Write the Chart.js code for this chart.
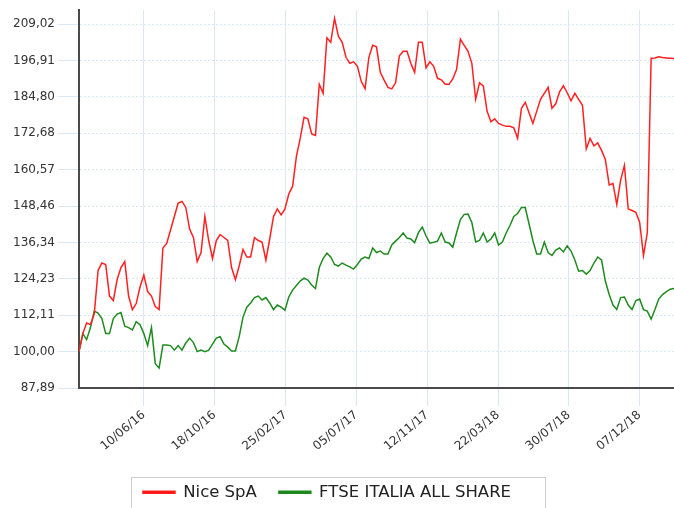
<!DOCTYPE html>
<html>
<head>
<meta charset="utf-8">
<script src="https://cdn.jsdelivr.net/npm/chart.js@4.4.0/dist/chart.umd.min.js"></script>
<style>
  html, body { margin: 0; padding: 0; background: #fff; }
  #wrap { width: 674px; height: 508px; position: relative; }
</style>
</head>
<body>
<div id="wrap"><canvas id="perfChart"></canvas></div>
<script>
// date settimanali (venerdi)
const dates = [
  '12/02/16','19/02/16','26/02/16','04/03/16','11/03/16','18/03/16','25/03/16','01/04/16','08/04/16','15/04/16',
  '22/04/16','29/04/16','06/05/16','13/05/16','20/05/16','27/05/16','03/06/16','10/06/16','17/06/16','24/06/16',
  '01/07/16','08/07/16','15/07/16','22/07/16','29/07/16','05/08/16','12/08/16','19/08/16','26/08/16','02/09/16',
  '09/09/16','16/09/16','23/09/16','30/09/16','07/10/16','14/10/16','21/10/16','28/10/16','04/11/16','11/11/16',
  '18/11/16','25/11/16','02/12/16','09/12/16','16/12/16','23/12/16','30/12/16','06/01/17','13/01/17','20/01/17',
  '27/01/17','03/02/17','10/02/17','17/02/17','24/02/17','03/03/17','10/03/17','17/03/17','24/03/17','31/03/17',
  '07/04/17','14/04/17','21/04/17','28/04/17','05/05/17','12/05/17','19/05/17','26/05/17','02/06/17','09/06/17',
  '16/06/17','23/06/17','30/06/17','07/07/17','14/07/17','21/07/17','28/07/17','04/08/17','11/08/17','18/08/17',
  '25/08/17','01/09/17','08/09/17','15/09/17','22/09/17','29/09/17','06/10/17','13/10/17','20/10/17','27/10/17',
  '03/11/17','10/11/17','17/11/17','24/11/17','01/12/17','08/12/17','15/12/17','22/12/17','29/12/17','05/01/18',
  '12/01/18','19/01/18','26/01/18','02/02/18','09/02/18','16/02/18','23/02/18','02/03/18','09/03/18','16/03/18',
  '23/03/18','30/03/18','06/04/18','13/04/18','20/04/18','27/04/18','04/05/18','11/05/18','18/05/18','25/05/18',
  '01/06/18','08/06/18','15/06/18','22/06/18','29/06/18','06/07/18','13/07/18','20/07/18','27/07/18','03/08/18',
  '10/08/18','17/08/18','24/08/18','31/08/18','07/09/18','14/09/18','21/09/18','28/09/18','05/10/18','12/10/18',
  '19/10/18','26/10/18','02/11/18','09/11/18','16/11/18','23/11/18','30/11/18','07/12/18','14/12/18','21/12/18',
  '28/12/18','04/01/19','11/01/19','18/01/19','25/01/19','01/02/19','08/02/19'
];

const niceSpa = [
  100, 106, 109.5, 109, 112.5, 127, 129.5, 129, 118.5, 117,
  124, 128, 130, 118.5, 114, 116, 121.5, 125.5, 120, 118.5,
  115, 114, 134.5, 136, 140.5, 145, 149.5, 150, 148, 140.8,
  138, 130, 133, 145, 137, 131, 137, 139, 138, 137,
  128, 124, 128.5, 134, 131.5, 131.5, 138, 137, 136.5, 130.5,
  137.5, 145, 147.5, 145.5, 147.5, 152.5, 155, 165, 171, 178,
  177.5, 172.5, 172, 189, 186, 204.5, 203, 211, 205, 203,
  198, 196, 196.5, 195, 190, 187.5, 198, 202, 201.5, 193,
  190.4, 188, 187.5, 189.5, 198.5, 200, 200, 196, 193, 203,
  203, 194.5, 196.5, 195, 191, 190.5, 189, 189, 190.8, 194,
  204, 202, 200, 196, 184, 189.5, 188.5, 180, 176.5, 177.5,
  176, 175.4, 175, 175, 174.5, 171, 181, 183, 179.5, 176,
  180, 184, 186, 188, 181, 182.5, 186.5, 188.5, 186.2, 183.5,
  186, 184, 182, 167.5, 171, 168.5, 169.5, 167, 164, 155.5,
  156, 149, 157, 162, 147.5, 147, 146.4, 143, 132, 139.5,
  197.7, 197.8, 198.2, 197.9, 197.8, 197.7, 197.6
];

const ftseItalia = [
  100, 106, 104, 108, 113.5, 112.8, 111, 106, 106, 111,
  112.5, 113, 108.5, 108, 107.2, 110, 109, 106, 102, 108,
  96, 94.5, 102.2, 102.2, 102, 100.5, 102, 100.5, 102.9, 104.5,
  103, 100, 100.5, 100, 100.5, 102.5, 104.5, 105, 102.5, 101.5,
  100.2, 100.2, 105, 111.5, 114.8, 116.2, 118, 118.5, 117.2, 118,
  116.2, 114, 115.5, 114.8, 113.8, 118.2, 120.5, 122, 123.5, 124.5,
  123.8, 122.2, 121, 128, 131, 132.8, 131.5, 129, 128.5, 129.5,
  128.8, 128.2, 127.5, 129, 130.8, 131.5, 131, 134.5, 133, 133.5,
  132.5, 132.5, 135.5, 136.8, 138, 139.5, 137.8, 137.5, 136.3, 139.6,
  141.5, 138.5, 136.1, 136.4, 136.8, 139.5, 136.5, 136.2, 134.8, 139.6,
  144, 145.7, 145.8, 143, 136.5, 137, 139.5, 136.5, 137.5, 139.5,
  135.5, 136.5, 139.5, 142, 145, 146, 148, 148, 142.5, 137,
  132.5, 132.5, 136.5, 133, 132, 133.8, 134.5, 133.2, 135.2, 133.5,
  130.5, 126.8, 127, 125.8, 127, 129.5, 131.5, 130.5, 123.5, 119,
  115.5, 114, 118, 118.2, 115.5, 114, 117, 117.5, 114, 113.5,
  110.8, 114, 117.5, 119, 120, 120.8, 121
];

const xTickLabels = ['10/06/16','18/10/16','25/02/17','05/07/17','12/11/17','22/03/18','30/07/18','07/12/18'];
const yTickValues = [87.89, 100.00, 112.11, 124.23, 136.34, 148.46, 160.57, 172.68, 184.80, 196.91, 209.02];
const yMin = 87.89;
const yMax = 213.68;

function toDay(s) {
  const [d, m, y] = s.split('/').map(Number);
  return Date.UTC(2000 + y, m - 1, d) / 86400000;
}

const gridBlue = '#d9e7f6';
const axisGray = '#4a4a4a';

Chart.defaults.font.family = "'DejaVu Sans', Verdana, sans-serif";
Chart.defaults.color = '#333';

// sposta un po' la legenda a sinistra
const legendShift = {
  id: 'legendShift',
  afterLayout(chart) {
    const lg = chart.legend;
    if (!lg) return;
    lg.left -= 10;
    lg.right -= 10;
  }
};

// cornice attorno alla legenda
const legendFrame = {
  id: 'legendFrame',
  afterDraw(chart) {
    const lg = chart.legend;
    const boxes = lg && lg.legendHitBoxes;
    if (!boxes || !boxes.length) return;
    const first = boxes[0];
    const last = boxes[boxes.length - 1];
    const left = first.left - 12;
    const right = last.left + last.width + 34;
    const top = first.top + first.height / 2 - 15;
    const ctx = chart.ctx;
    ctx.save();
    ctx.strokeStyle = '#cfcfcf';
    ctx.lineWidth = 1;
    ctx.strokeRect(Math.round(left) + 0.5, Math.round(top) + 0.5, Math.round(right - left), 60);
    ctx.restore();
  }
};

const ctx = document.getElementById('perfChart').getContext('2d');
new Chart(ctx, {
  type: 'line',
  data: {
    datasets: [{
      label: 'Nice SpA',
      data: dates.map((d, i) => ({ x: toDay(d), y: niceSpa[i] })),
      borderColor: '#ff2020',
      backgroundColor: '#ff0000',
      borderWidth: 1.5,
      pointRadius: 0,
      tension: 0
    }, {
      label: 'FTSE ITALIA ALL SHARE',
      data: dates.map((d, i) => ({ x: toDay(d), y: ftseItalia[i] })),
      borderColor: '#1f8a1f',
      backgroundColor: '#128012',
      borderWidth: 1.5,
      pointRadius: 0,
      tension: 0
    }]
  },
  options: {
    responsive: true,
    maintainAspectRatio: false,
    animation: false,
    layout: { padding: { top: 10, right: 0, bottom: -2.5, left: 0 } },
    scales: {
      x: {
        type: 'linear',
        min: toDay(dates[0]),
        max: toDay(dates[dates.length - 1]),
        afterBuildTicks: scale => { scale.ticks = xTickLabels.map(t => ({ value: toDay(t) })); },
        afterFit: scale => { scale.height = 74; },
        grid: { color: gridBlue, lineWidth: 1, tickColor: gridBlue, tickLength: 18 },
        border: { color: axisGray, width: 2 },
        ticks: {
          autoSkip: false,
          minRotation: 40,
          maxRotation: 40,
          padding: 2,
          font: { size: 12 },
          callback: (v, i) => xTickLabels[i]
        }
      },
      y: {
        min: yMin,
        max: yMax,
        afterBuildTicks: scale => { scale.ticks = yTickValues.map(v => ({ value: v })); },
        afterFit: scale => { scale.width = 79; },
        grid: { color: gridBlue, lineWidth: 1, tickColor: gridBlue, tickLength: 21, tickBorderDash: [] },
        border: { color: axisGray, width: 2, dash: [2, 2] },
        ticks: {
          padding: 3,
          font: { size: 12 },
          callback: (v, i) => yTickValues[i].toFixed(2).replace('.', ',')
        }
      }
    },
    plugins: {
      legend: {
        position: 'bottom',
        labels: {
          boxWidth: 32,
          boxHeight: 2,
          padding: 22,
          color: '#222',
          font: { size: 16.5 }
        }
      },
      tooltip: { enabled: false }
    }
  },
  plugins: [legendShift, legendFrame]
});
</script>
</body>
</html>
